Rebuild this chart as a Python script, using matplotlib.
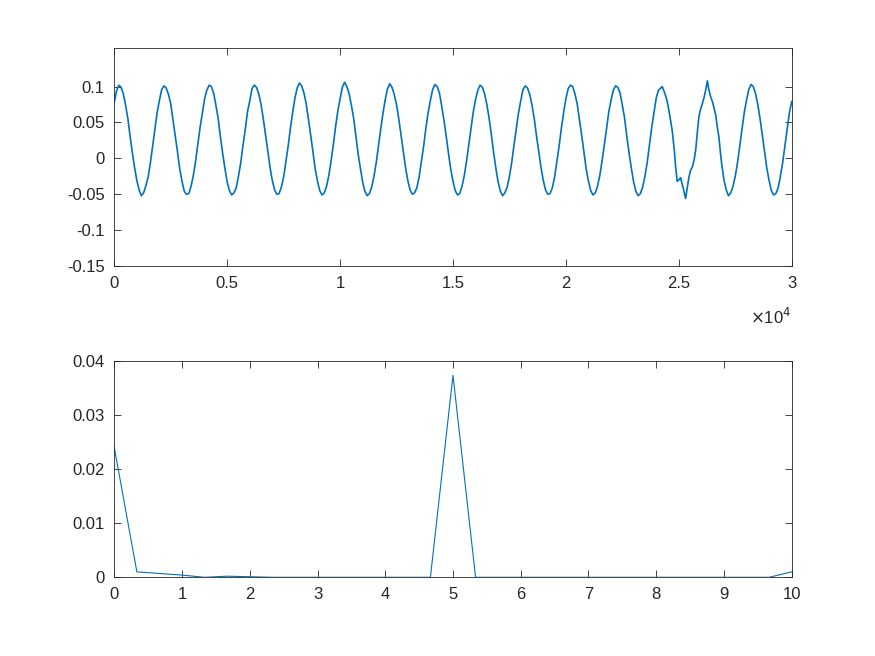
import numpy as np
import matplotlib
matplotlib.use('Agg')
import matplotlib.pyplot as plt
from matplotlib.ticker import FuncFormatter

# top panel: sampled signal, values read every 100 samples (one row per ~2000-sample cycle)
wave_t = np.arange(0, 24000, 100)
wave_v = [
    0.078, 0.094, 0.102, 0.099, 0.090, 0.074, 0.056, 0.031, 0.008, -0.013, -0.031, -0.044, -0.052, -0.048, -0.038, -0.026, -0.006, 0.017, 0.041, 0.064,
    0.081, 0.096, 0.101, 0.098, 0.089, 0.076, 0.054, 0.033, 0.009, -0.015, -0.032, -0.046, -0.050, -0.049, -0.039, -0.024, -0.004, 0.019, 0.043, 0.063,
    0.083, 0.095, 0.102, 0.100, 0.091, 0.074, 0.056, 0.030, 0.007, -0.014, -0.033, -0.045, -0.051, -0.048, -0.041, -0.025, -0.006, 0.018, 0.040, 0.065,
    0.080, 0.097, 0.102, 0.099, 0.090, 0.075, 0.055, 0.033, 0.010, -0.013, -0.031, -0.044, -0.050, -0.049, -0.040, -0.026, -0.005, 0.017, 0.042, 0.064,
    0.084, 0.098, 0.105, 0.101, 0.091, 0.076, 0.054, 0.032, 0.008, -0.015, -0.032, -0.045, -0.051, -0.048, -0.039, -0.024, -0.004, 0.019, 0.044, 0.066,
    0.083, 0.099, 0.106, 0.100, 0.090, 0.074, 0.056, 0.031, 0.006, -0.014, -0.033, -0.046, -0.052, -0.049, -0.040, -0.025, -0.006, 0.018, 0.041, 0.063,
    0.082, 0.097, 0.104, 0.099, 0.089, 0.075, 0.055, 0.032, 0.009, -0.013, -0.031, -0.044, -0.050, -0.048, -0.041, -0.026, -0.005, 0.017, 0.042, 0.064,
    0.081, 0.096, 0.103, 0.100, 0.091, 0.073, 0.053, 0.031, 0.007, -0.015, -0.032, -0.045, -0.051, -0.049, -0.039, -0.024, -0.004, 0.019, 0.043, 0.065,
    0.082, 0.095, 0.102, 0.099, 0.090, 0.075, 0.056, 0.033, 0.008, -0.014, -0.033, -0.046, -0.052, -0.048, -0.040, -0.025, -0.006, 0.018, 0.040, 0.063,
    0.080, 0.096, 0.101, 0.098, 0.089, 0.074, 0.055, 0.031, 0.009, -0.013, -0.031, -0.044, -0.050, -0.049, -0.041, -0.026, -0.005, 0.017, 0.042, 0.064,
    0.083, 0.097, 0.102, 0.100, 0.090, 0.076, 0.054, 0.032, 0.008, -0.015, -0.032, -0.045, -0.051, -0.048, -0.039, -0.024, -0.004, 0.018, 0.041, 0.065,
    0.081, 0.095, 0.101, 0.099, 0.091, 0.074, 0.056, 0.030, 0.007, -0.014, -0.033, -0.046, -0.052, -0.049, -0.040, -0.025, -0.006, 0.019, 0.043, 0.064,
]
# the distorted dip around 2.5e4 and the tall peak after it
dip_t = [24000, 24100, 24270, 24400, 24490, 24600, 24710, 24800, 24860, 24930,
         25000, 25080, 25140, 25200, 25300, 25380, 25450, 25520, 25600, 25680,
         25750, 25820, 25890, 25960, 26040, 26120, 26190, 26265, 26330, 26410,
         26500, 26630, 26700, 26780, 26850, 26900, 27000, 27100, 27200, 27300,
         27400, 27500, 27600, 27700, 27800, 27900]
dip_v = [0.084, 0.095, 0.100, 0.089, 0.079, 0.060, 0.038, 0.012, -0.012, -0.032,
         -0.030, -0.027, -0.035, -0.042, -0.056, -0.040, -0.026, -0.017, -0.012, -0.002,
         0.012, 0.036, 0.058, 0.068, 0.076, 0.085, 0.095, 0.108, 0.096, 0.086,
         0.078, 0.061, 0.045, 0.029, 0.006, -0.008, -0.030, -0.044, -0.052, -0.048,
         -0.039, -0.025, -0.006, 0.017, 0.041, 0.064]
tail_t = np.arange(28000, 30001, 100)
tail_v = [0.081, 0.096, 0.103, 0.100, 0.090, 0.075, 0.055, 0.032, 0.008, -0.014,
          -0.031, -0.045, -0.051, -0.049, -0.041, -0.025, -0.006, 0.018, 0.041, 0.064,
          0.079]

# bottom panel: spectrum, 31 bins from 0 to 10
freq = np.linspace(0, 10, 31)
amp = [0.0240, 0.0010, 0.0007, 0.0004, 0.0000, 0.0002, 0.0001, 0.0000, 0.0000, 0.0000,
       0.0000, 0.0000, 0.0000, 0.0000, 0.0000, 0.0373, 0.0000, 0.0000, 0.0000, 0.0000,
       0.0000, 0.0000, 0.0000, 0.0000, 0.0000, 0.0000, 0.0000, 0.0000, 0.0000, 0.0000,
       0.0010]

t = np.concatenate([wave_t, dip_t, tail_t])
v = np.concatenate([wave_v, dip_v, tail_v])

plt.rcParams['font.family'] = ['Liberation Sans', 'DejaVu Sans']
plt.rcParams['font.size'] = 12

blue = '#0072BD'
dark = '#262626'

fig = plt.figure(figsize=(8.75, 6.56), dpi=100)
ax1 = fig.add_axes([0.1306, 0.5945, 0.7742, 0.3319])
ax2 = fig.add_axes([0.1306, 0.1200, 0.7742, 0.3302])

def style(ax):
    ax.tick_params(direction='in', length=4.9, width=0.6, top=True, right=True,
                   colors=dark, labelsize=12, pad=7)
    for s in ax.spines.values():
        s.set_linewidth(0.6)
        s.set_color(dark)

fmt = FuncFormatter(lambda x, p: '%g' % x)

ax1.plot(t, v, color=blue, lw=1.2)
ax1.set_xlim(0, 30000)
ax1.set_ylim(-0.15, 0.1534)
ax1.set_xticks(np.arange(0, 30001, 5000))
ax1.xaxis.set_major_formatter(FuncFormatter(lambda x, p: '%g' % (x / 1e4)))
ax1.set_yticks([-0.15, -0.1, -0.05, 0, 0.05, 0.1])
ax1.yaxis.set_major_formatter(fmt)
style(ax1)
ax1.text(1.0, -0.19, r'$\times$10$^4$', transform=ax1.transAxes, ha='right',
         va='top', fontsize=12, color=dark)

ax2.plot(freq, amp, color=blue, lw=0.8)
ax2.set_xlim(0, 10)
ax2.set_ylim(0, 0.04)
ax2.set_xticks(np.arange(0, 11, 1))
ax2.set_yticks([0, 0.01, 0.02, 0.03, 0.04])
ax2.yaxis.set_major_formatter(fmt)
style(ax2)

fig.savefig('out.png', dpi=100)
